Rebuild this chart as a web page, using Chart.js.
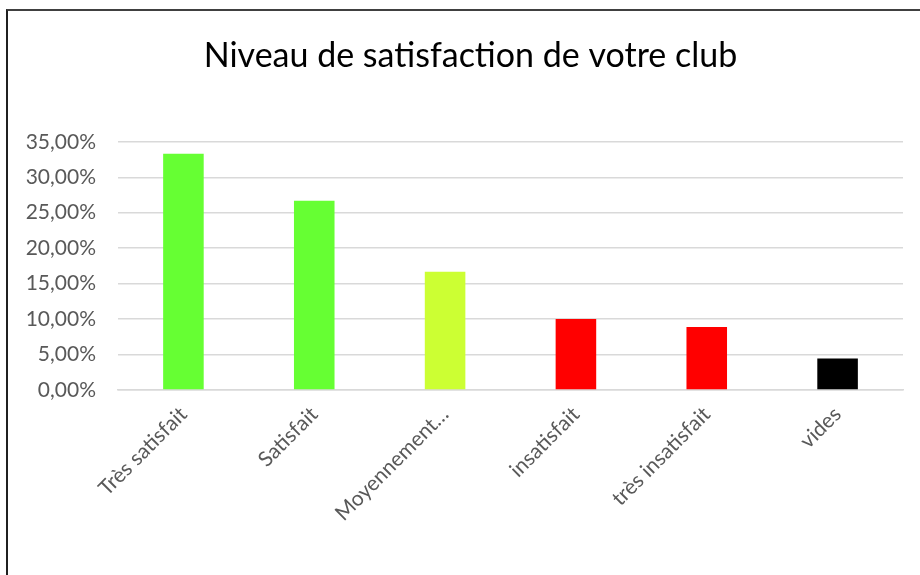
<!DOCTYPE html>
<html>
<head>
<meta charset="utf-8">
<script src="https://cdn.jsdelivr.net/npm/chart.js@4"></script>
<style>
  html, body { margin: 0; padding: 0; background: #fff; }
  #wrap { position: relative; width: 920px; height: 575px; overflow: hidden; }
  #cadre { position: absolute; left: 6px; top: 9px; width: 940px; height: 600px;
           border-top: 2px solid #404040; border-left: 2px solid #202020; }
  canvas { position: absolute; left: 0; top: 0; }
</style>
</head>
<body>
<div id="wrap">
  <div id="cadre"></div>
  <canvas id="chart" width="920" height="575"></canvas>
</div>
<script>
// réponses au sondage, en pourcentage
let categories = ['Très satisfait', 'Satisfait', 'Moyennement…', 'insatisfait', 'très insatisfait', 'vides'];
let pourcentages = [33.33, 26.67, 16.67, 10.00, 8.89, 4.44];
let couleurs = ['#66FF33', '#66FF33', '#CCFF33', '#FF0000', '#FF0000', '#000000'];
let graduations = [0, 5, 10, 15, 20, 25, 30, 35];

let police = 'Lato, "Open Sans", sans-serif';

// décale le bloc du titre pour le centrer un peu plus à droite
let decalageTitre = {
  id: 'decalageTitre',
  afterLayout: (chart) => {
    if (chart.titleBlock) chart.titleBlock.left += 38;
  }
};

var ctx = document.getElementById('chart').getContext('2d');
var chart = new Chart(ctx, {
  type: 'bar',
  data: {
    labels: categories,
    datasets: [{
      data: pourcentages,
      backgroundColor: couleurs,
      barPercentage: 0.31,
      categoryPercentage: 1
    }]
  },
  options: {
    responsive: false,
    animation: false,
    layout: { padding: { left: 0, right: 17, top: 0, bottom: 0 } },
    plugins: {
      legend: { display: false },
      tooltip: { enabled: false },
      title: {
        display: true,
        text: 'Niveau de satisfaction de votre club',
        color: '#000000',
        font: { family: police, size: 34, weight: 'normal' },
        padding: { top: 36, bottom: 65 }
      }
    },
    scales: {
      x: {
        grid: { display: false },
        border: { color: '#D9D9D9', width: 1.5 },
        ticks: {
          color: '#595959',
          font: { family: police, size: 21 },
          minRotation: 45,
          maxRotation: 45,
          padding: 4
        },
        afterFit: (scale) => { scale.height = 185; }
      },
      y: {
        min: 0,
        max: 35,
        afterBuildTicks: (scale) => { scale.ticks = graduations.map(v => ({ value: v })); },
        grid: { color: '#D9D9D9', lineWidth: 1.5, drawTicks: false },
        border: { display: false },
        ticks: {
          color: '#595959',
          font: { family: police, size: 21 },
          padding: 22,
          callback: (v) => v.toFixed(2).replace('.', ',') + '%'
        },
        afterFit: (scale) => { scale.width = 118; }
      }
    }
  },
  plugins: [decalageTitre]
});
</script>
</body>
</html>
